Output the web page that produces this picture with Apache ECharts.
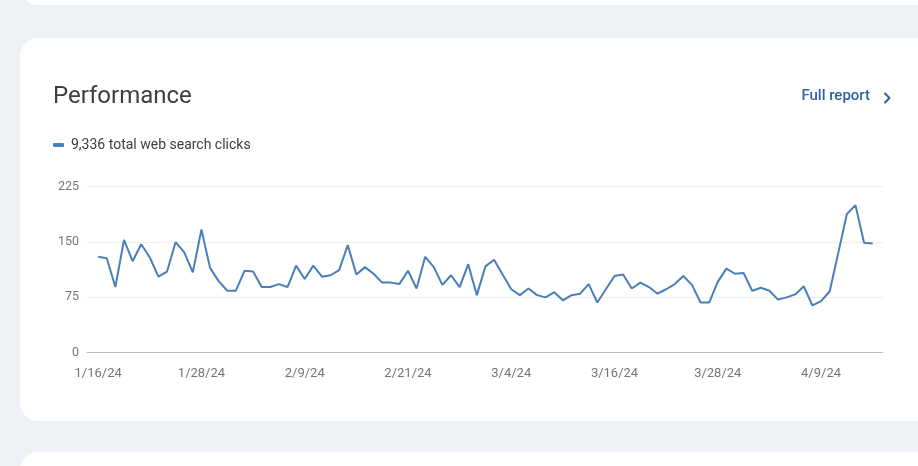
<!DOCTYPE html>
<html>
<head>
<meta charset="utf-8">
<script src="https://cdn.jsdelivr.net/npm/echarts@6/dist/echarts.min.js"></script>
<style>
  html, body { margin:0; padding:0; width:918px; height:466px; overflow:hidden; background:#eef2f6; font-family: Roboto, "Noto Sans", sans-serif; }
  .card { position:absolute; background:#fff; border-radius:18px; }
  #chart { position:absolute; left:0; top:0; width:918px; height:466px; }
</style>
</head>
<body>
<div class="card" style="left:20px; top:-40px; width:940px; height:45px;"></div>
<div class="card" style="left:20px; top:38px; width:940px; height:383px;"></div>
<div class="card" style="left:20px; top:452px; width:940px; height:60px;"></div>
<div id="chart"></div>
<script>
// ---- data ----
const seriesName = '9,336 total web search clicks';
const clicks = [
  130,128,89,153,124,147,129,103,110,150,136,109,167,115,97,84,84,111,110,89,
  89,93,89,118,100,118,103,105,112,146,106,116,107,95,95,93,111,87,130,116,
  92,105,89,120,78,117,126,106,86,78,87,78,75,82,71,78,80,93,68,86,
  104,106,87,95,89,80,86,93,104,92,68,68,96,114,107,108,84,88,84,72,
  75,79,90,64,70,83,135,188,200,149,148
];
const dates = [];
for (let i = 0; i < clicks.length; i++) {
  const d = new Date(2024, 0, 16 + i);
  dates.push((d.getMonth() + 1) + '/' + d.getDate() + '/' + String(d.getFullYear()).slice(2));
}
const xTickLabels = ['1/16/24','1/28/24','2/9/24','2/21/24','3/4/24','3/16/24','3/28/24','4/9/24'];
const yTicks = [0, 75, 150, 225];

// ---- chart ----
const chart = echarts.init(document.getElementById('chart'), null, { renderer: 'canvas' });
const points = clicks.map((v, i) => [i, v]);
const labelFont = 'Roboto, "Noto Sans", sans-serif';

chart.setOption({
  backgroundColor: 'transparent',
  animation: false,
  textStyle: { fontFamily: labelFont },
  title: {
    text: 'Performance',
    left: 48, top: 80,
    textStyle: { fontSize: 24, fontWeight: 'normal', color: '#3c4043', fontFamily: labelFont }
  },
  legend: {
    left: 48, top: 133,
    icon: 'roundRect',
    itemWidth: 11, itemHeight: 4, itemGap: 10,
    textStyle: { fontSize: 14, color: '#3c4043', fontFamily: labelFont, padding: [0, 0, 0, 2] },
    data: [seriesName]
  },
  graphic: [
    {
      type: 'text', right: 48, top: 89,
      style: { text: 'Full report', fontSize: 15, fontWeight: 500, fill: '#2c62a6', fontFamily: labelFont }
    },
    {
      type: 'polyline', right: 26, top: 91,
      shape: { points: [[0, 0], [4.5, 4.5], [0, 9]] },
      style: { stroke: '#2c62a6', lineWidth: 2, fill: 'none', lineCap: 'round', lineJoin: 'round' }
    }
  ],
  grid: { left: 87, right: 35, top: 186.7, bottom: 113.3, containLabel: false },
  xAxis: {
    type: 'value',
    min: -1.3, max: 91.2,
    axisLine: { show: true, lineStyle: { color: '#bdbdbd', width: 1 } },
    axisTick: { show: false },
    splitLine: { show: false },
    axisLabel: {
      customValues: xTickLabels.map(l => dates.indexOf(l)),
      formatter: v => dates[Math.round(v)],
      color: '#757575', fontSize: 13, margin: 15, fontFamily: labelFont
    }
  },
  yAxis: {
    type: 'value',
    min: 0, max: 225, interval: 75,
    axisLine: { show: false },
    axisTick: { show: false },
    splitLine: { show: true, lineStyle: { color: '#efefef', width: 1 } },
    axisLabel: { color: '#757575', fontSize: 12.5, margin: 8, fontFamily: labelFont,
      customValues: yTicks }
  },
  series: [{
    name: seriesName,
    type: 'line',
    data: points,
    symbol: 'none',
    smooth: false,
    lineStyle: { color: '#4a7ebb', width: 2 },
    itemStyle: { color: '#4a7ebb' }
  }]
});
</script>
</body>
</html>
